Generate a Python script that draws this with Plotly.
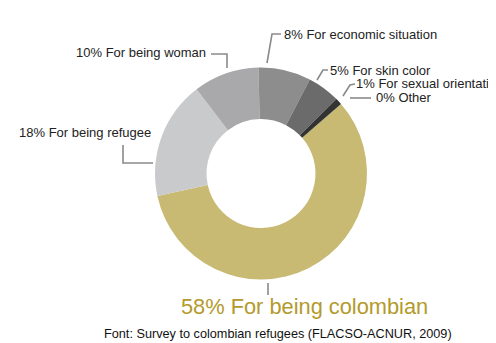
import plotly.graph_objects as go

# ---- data ----
categories = ["For being colombian", "For being refugee", "For being woman",
              "For economic situation", "For skin color", "For sexual orientation", "Other"]
values = [58, 18, 10, 8, 5, 1, 0]
source_note = "Font: Survey to colombian refugees (FLACSO-ACNUR, 2009)"

# ---- style ----
colors = ["#c8b973", "#c9cacc", "#a9a9ab", "#8d8d8d", "#6b6b6b", "#333333", "#111111"]
W, H = 530, 343   # figure a bit wider than the window; the window crops it
OFF = 8  # page body margin
FONT = "Liberation Sans, Arial, sans-serif"
LINE = "#8a8a8a"

def px(x):
    return (x - OFF) / W

def py(y):
    return 1 - (y - OFF) / H

cx, cy, r = 261, 173.5, 106

fig = go.Figure()
fig.add_trace(go.Pie(
    labels=categories, values=values, sort=False, direction="clockwise",
    rotation=49, hole=0.514, textinfo="none", showlegend=False,
    marker=dict(colors=colors, line=dict(width=0)),
    domain=dict(x=[px(cx - r), px(cx + r)], y=[py(cy + r), py(cy - r)]),
))

labels_txt = [f"{v}% {c}" for v, c in zip(values, categories)]

placements = [
    (304.5, 306, "center"),   # colombian
    (153, 133, "right"),      # refugee
    (208, 52, "right"),       # woman
    (282, 34, "left"),        # economic
    (328, 70, "left"),        # skin
    (354, 83, "left"),        # sexual
    (374, 97, "left"),        # other
]
ann = []
for i, (t, (x, y, a)) in enumerate(zip(labels_txt, placements)):
    if i == 0:
        ann.append(dict(x=px(x), y=py(y), xref="paper", yref="paper", text=t,
                        showarrow=False, xanchor="center", yanchor="middle",
                        font=dict(family=FONT, size=21.8, color="#b39a2b")))
    else:
        ann.append(dict(x=px(x), y=py(y), xref="paper", yref="paper", text=t,
                        showarrow=False, xanchor=a, yanchor="middle",
                        font=dict(family=FONT, size=13, color="#222222")))
ann.append(dict(x=px(277.5), y=py(334), xref="paper", yref="paper", text=source_note,
                showarrow=False, xanchor="center", yanchor="middle",
                font=dict(family=FONT, size=12.7, color="#111111")))

leaders = [
    [(268, 283), (268, 295)],
    [(123, 145), (123, 163), (153, 163)],
    [(211, 54), (227, 54), (227, 68)],
    [(281, 34), (272, 34), (267, 63)],
    [(328, 70), (323, 70), (317, 80)],
    [(355, 84), (350, 85), (343, 96)],
    [(350, 98), (371, 98)],
]
shapes = []
for pts in leaders:
    path = "M " + " L ".join(f"{px(x)},{py(y)}" for x, y in pts)
    shapes.append(dict(type="path", path=path, xref="paper", yref="paper",
                       line=dict(color=LINE, width=1.6)))

fig.update_layout(
    width=W, height=H, margin=dict(l=0, r=0, t=0, b=0),
    paper_bgcolor="white", plot_bgcolor="white",
    annotations=ann, shapes=shapes,
)
fig.write_html("out.html")
